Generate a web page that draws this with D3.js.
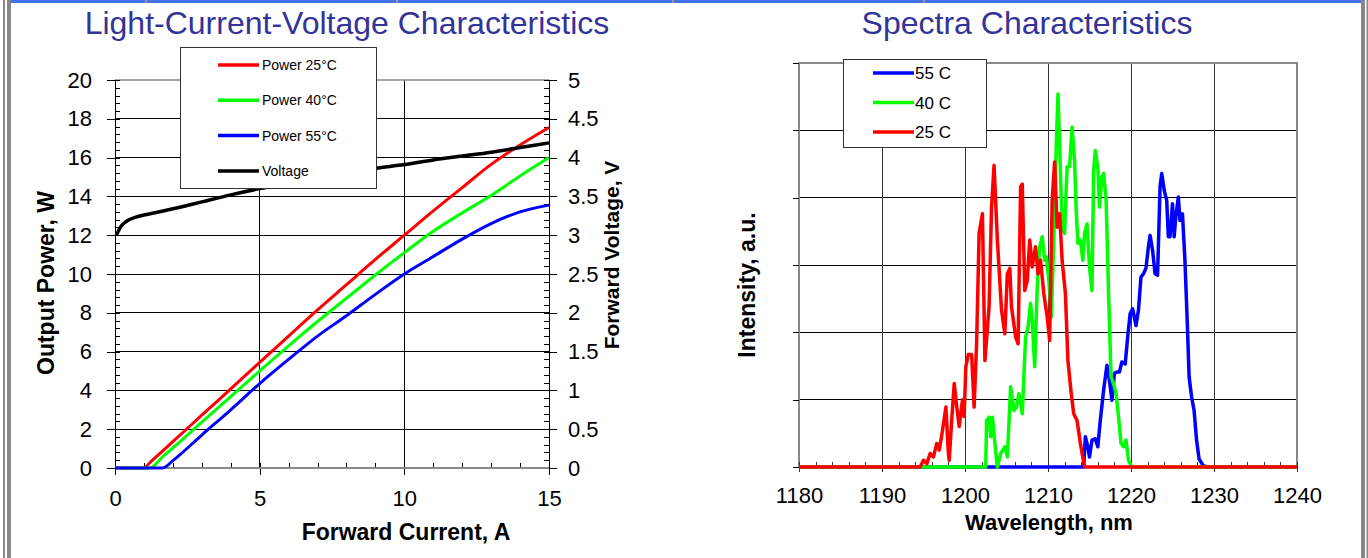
<!DOCTYPE html>
<html>
<head>
<meta charset="utf-8">
<script src="https://cdn.jsdelivr.net/npm/d3@7"></script>
<style>
    body { margin: 0; background: #fff; }
    svg text { font-family: "Liberation Sans", Arial, sans-serif; }
</style>
</head>
<body>
<div id="chart"></div>
<script>
"use strict";

// --- Light-Current-Voltage data ---
const currentA = [0, 1.0, 1.2, 1.65, 2, 3, 4, 5, 6, 7, 8, 9, 10, 11, 12, 13, 14, 15];
const power25 = [0, 0, 0.27, 0.88, 1.36, 2.72, 4.08, 5.44, 6.8, 8.15, 9.45, 10.75, 12.0, 13.25, 14.45, 15.65, 16.65, 17.55];
const power40 = [0, 0, 0, 0.59, 1.04, 2.36, 3.68, 5.0, 6.3, 7.55, 8.75, 9.95, 11.1, 12.2, 13.15, 14.05, 15.05, 16.0];
const power55 = [0, 0, 0, 0, 0.38, 1.7, 3.0, 4.35, 5.6, 6.8, 7.85, 8.95, 10.0, 10.9, 11.8, 12.6, 13.2, 13.55];

const voltageI = [0.05, 0.2, 0.4, 0.7, 1, 1.5, 2, 3, 4, 5, 6, 7, 8, 9, 10, 11, 12, 13, 14, 15];
const voltageV = [3.0, 3.11, 3.18, 3.23, 3.26, 3.3, 3.34, 3.43, 3.52, 3.6, 3.67, 3.74, 3.8, 3.86, 3.91, 3.97, 4.02, 4.07, 4.13, 4.19];

const currentTicks = [0, 5, 10, 15];
const powerTicks = [0, 2, 4, 6, 8, 10, 12, 14, 16, 18, 20];
const voltTicks = [0, 0.5, 1, 1.5, 2, 2.5, 3, 3.5, 4, 4.5, 5];
const livLegend = ["Power 25°C", "Power 40°C", "Power 55°C", "Voltage"];

// --- Spectra data ---
const wl25 = [1180, 1194.6, 1195.0, 1195.4, 1195.8, 1196.2, 1196.6, 1196.9, 1197.3, 1197.7, 1198.0, 1198.1, 1198.4, 1198.7, 1199.0, 1199.3, 1199.7, 1199.9, 1200.1, 1200.4, 1200.8, 1201.1, 1201.4, 1201.7, 1202.1, 1202.4, 1202.9, 1203.2, 1203.5, 1203.9, 1204.4, 1204.8, 1205.1, 1205.4, 1205.6, 1206.1, 1206.4, 1206.7, 1206.9, 1207.2, 1207.5, 1207.8, 1208.1, 1208.5, 1208.8, 1209.1, 1209.5, 1209.9, 1210.2, 1210.5, 1210.8, 1211.1, 1211.4, 1211.7, 1212.1, 1212.4, 1212.8, 1213.1, 1213.5, 1213.9, 1214.4, 1240];
const int25 = [0, 0, 0.1, 0.05, 0.2, 0.15, 0.35, 0.25, 0.55, 0.89, 0.2, 0.1, 0.7, 1.24, 0.9, 0.6, 1.0, 0.75, 1.49, 1.67, 1.67, 0.89, 1.84, 3.47, 3.76, 1.58, 2.38, 3.86, 4.48, 3.37, 2.33, 1.98, 2.87, 2.95, 2.38, 1.93, 1.83, 4.16, 4.2, 2.62, 2.77, 3.37, 2.97, 3.27, 2.87, 3.07, 2.57, 2.23, 1.88, 3.96, 4.53, 3.56, 3.76, 3.07, 2.57, 1.58, 1.09, 0.79, 0.69, 0.35, 0, 0];

const wl40 = [1180, 1202.5, 1202.6, 1202.9, 1203.1, 1203.3, 1203.6, 1203.9, 1204.3, 1204.8, 1205.1, 1205.5, 1205.9, 1206.2, 1206.5, 1206.9, 1207.3, 1207.6, 1207.9, 1208.1, 1208.4, 1208.7, 1209.0, 1209.3, 1209.6, 1209.8, 1210.1, 1210.4, 1210.7, 1211.0, 1211.2, 1211.4, 1211.7, 1212.0, 1212.3, 1212.6, 1212.9, 1213.2, 1213.4, 1213.6, 1213.9, 1214.2, 1214.4, 1214.7, 1215.0, 1215.3, 1215.5, 1215.7, 1216.0, 1216.2, 1216.5, 1216.7, 1217.0, 1217.3, 1217.6, 1217.9, 1218.2, 1218.5, 1218.8, 1219.1, 1219.4, 1219.7, 1220.1, 1240];
const int40 = [0, 0, 0.69, 0.74, 0.45, 0.74, 0.35, 0, 0.2, 0.3, 0.15, 1.19, 0.84, 0.89, 1.09, 0.79, 1.93, 2.08, 2.43, 2.18, 1.49, 2.67, 3.27, 3.42, 3.07, 3.12, 2.77, 2.23, 3.37, 4.8, 5.54, 4.8, 3.56, 3.47, 4.46, 4.46, 5.05, 4.55, 3.81, 3.32, 3.37, 3.07, 3.47, 3.61, 2.97, 2.62, 4.41, 4.7, 4.46, 3.86, 4.31, 4.36, 3.96, 2.57, 1.34, 1.24, 1.09, 0.74, 0.35, 0.3, 0.4, 0.1, 0, 0];

const wl55 = [1180, 1214.3, 1214.5, 1214.8, 1215.0, 1215.3, 1215.7, 1216.0, 1216.3, 1216.7, 1217.1, 1217.4, 1217.7, 1218.0, 1218.3, 1218.6, 1218.9, 1219.3, 1219.6, 1219.9, 1220.2, 1220.6, 1220.9, 1221.2, 1221.5, 1221.8, 1222.1, 1222.3, 1222.6, 1222.9, 1223.2, 1223.5, 1223.7, 1224.0, 1224.3, 1224.5, 1224.7, 1225.0, 1225.2, 1225.4, 1225.7, 1225.9, 1226.2, 1226.5, 1226.8, 1227.0, 1227.3, 1227.6, 1227.9, 1228.2, 1228.7, 1229.2, 1240];
const int55 = [0, 0, 0.45, 0.3, 0.15, 0.4, 0.42, 0.3, 0.69, 1.14, 1.51, 1.29, 0.99, 1.39, 1.41, 1.41, 1.56, 1.53, 1.93, 2.28, 2.35, 2.1, 2.33, 2.82, 2.87, 2.95, 3.27, 3.44, 3.22, 2.87, 2.85, 4.16, 4.36, 4.11, 3.96, 3.42, 3.42, 3.91, 3.42, 3.71, 4.01, 3.66, 3.76, 3.07, 2.08, 1.34, 1.04, 0.84, 0.4, 0.12, 0.02, 0, 0];

const wlTicks = [1180, 1190, 1200, 1210, 1220, 1230, 1240];
const intensityTicks = [0, 1, 2, 3, 4, 5, 6];
const specLegend = ["55 C", "40 C", "25 C"];

const RED = "#ff0000", GREEN = "#00ff00", BLUE = "#0000ff", TITLE = "#333399";

const svg = d3.select("#chart").append("svg")
    .attr("width", 1368)
    .attr("height", 558);

// page frame
svg.append("rect").attr("x", 10).attr("y", 0).attr("width", 1351).attr("height", 3).style("fill", "#4472ee");
[145, 396, 672, 923].forEach(sx => {
    svg.append("rect").attr("x", sx).attr("y", 0).attr("width", 2).attr("height", 3).style("fill", "#999");
});
svg.append("rect").attr("x", 3).attr("y", 0).attr("width", 2).attr("height", 558).style("fill", "#888");
svg.append("rect").attr("x", 7).attr("y", 0).attr("width", 4).attr("height", 558).style("fill", "#888");
svg.append("rect").attr("x", 1361).attr("y", 0).attr("width", 4).attr("height", 558).style("fill", "#888");
svg.append("rect").attr("x", 1366.5).attr("y", 0).attr("width", 1.5).attr("height", 558).style("fill", "#888");

function styleAxis(g, color, fontSize) {
    g.selectAll(".domain").remove();
    g.selectAll("line").style("stroke", color).attr("shape-rendering", "crispEdges");
    g.selectAll("text").style("font-size", fontSize + "px").style("fill", "#000")
        .style("font-family", "'Liberation Sans', Arial, sans-serif");
}

function drawLiv() {
    let x = d3.scaleLinear([0, 15], [115, 549]);
    let yP = d3.scaleLinear([0, 20], [468, 80]);
    let yV = d3.scaleLinear([0, 5], [468, 80]);
    let g = svg.append("g");

    g.append("text").attr("x", 347).attr("y", 34).attr("text-anchor", "middle")
        .style("font-size", "32px").style("fill", TITLE)
        .text("Light-Current-Voltage Characteristics");

    // grid
    powerTicks.slice(1, -1).forEach(v => {
        g.append("line").attr("x1", 115).attr("x2", 549).attr("y1", yP(v)).attr("y2", yP(v))
            .style("stroke", "#000").style("stroke-width", 1).attr("shape-rendering", "crispEdges");
    });
    currentTicks.slice(1, -1).forEach(v => {
        g.append("line").attr("x1", x(v)).attr("x2", x(v)).attr("y1", 80).attr("y2", 468)
            .style("stroke", "#000").style("stroke-width", 1).attr("shape-rendering", "crispEdges");
    });
    g.append("line").attr("x1", 115).attr("x2", 549).attr("y1", 80).attr("y2", 80)
        .style("stroke", "#888").style("stroke-width", 1.5);
    g.append("line").attr("x1", 115).attr("x2", 115).attr("y1", 80).attr("y2", 468)
        .style("stroke", "#000").style("stroke-width", 1).attr("shape-rendering", "crispEdges");
    g.append("line").attr("x1", 549).attr("x2", 549).attr("y1", 80).attr("y2", 468)
        .style("stroke", "#000").style("stroke-width", 1).attr("shape-rendering", "crispEdges");

    // axes
    g.append("g").attr("transform", "translate(115,0)")
        .call(d3.axisLeft(yP).tickValues(powerTicks).tickSize(8).tickPadding(15).tickSizeOuter(0))
        .call(a => styleAxis(a, "#000", 22));
    g.append("g").attr("transform", "translate(115,0)")
        .call(d3.axisRight(yP).tickValues(d3.range(0, 20.01, 0.4)).tickSize(5).tickFormat("").tickSizeOuter(0))
        .call(a => styleAxis(a, "#000", 22));
    g.append("g").attr("transform", "translate(549,0)")
        .call(d3.axisRight(yV).tickValues(voltTicks).tickSize(8).tickPadding(11).tickSizeOuter(0)
            .tickFormat(d3.format("")))
        .call(a => styleAxis(a, "#000", 22));
    g.append("g").attr("transform", "translate(549,0)")
        .call(d3.axisLeft(yV).tickValues(d3.range(0, 5.001, 0.1)).tickSize(5).tickFormat("").tickSizeOuter(0))
        .call(a => styleAxis(a, "#000", 22));
    g.append("g").attr("transform", "translate(0,468)")
        .call(d3.axisBottom(x).tickValues(currentTicks).tickSize(7).tickPadding(15).tickSizeOuter(0))
        .call(a => styleAxis(a, "#000", 22));
    g.append("g").attr("transform", "translate(0,468)")
        .call(d3.axisTop(x).tickValues(d3.range(0, 16, 1)).tickSize(5).tickFormat("").tickSizeOuter(0))
        .call(a => styleAxis(a, "#000", 22));
    g.append("line").attr("x1", 115).attr("x2", 549).attr("y1", 468).attr("y2", 468)
        .style("stroke", "#888").style("stroke-width", 2);

    // axis titles
    g.append("text").attr("transform", "translate(54,283) rotate(-90)").attr("text-anchor", "middle")
        .style("font-size", "23px").style("font-weight", "bold").text("Output Power, W");
    g.append("text").attr("transform", "translate(619,255) rotate(-90)").attr("text-anchor", "middle")
        .style("font-size", "21px").style("font-weight", "bold").text("Forward Voltage, V");
    g.append("text").attr("x", 406).attr("y", 540).attr("text-anchor", "middle")
        .style("font-size", "23px").style("font-weight", "bold").text("Forward Current, A");

    // series
    let powerLine = d3.line().curve(d3.curveMonotoneX).x(d => x(d[0])).y(d => yP(d[1]));
    [[power25, RED], [power40, GREEN], [power55, BLUE]].forEach(([vals, color]) => {
        g.append("path").datum(currentA.map((c, i) => [c, vals[i]]))
            .attr("d", powerLine)
            .style("fill", "none").style("stroke", color).style("stroke-width", 3)
            .style("stroke-linejoin", "round");
    });
    let voltLine = d3.line().curve(d3.curveMonotoneX).x(d => x(d[0])).y(d => yV(d[1]));
    g.append("path").datum(voltageI.map((c, i) => [c, voltageV[i]]))
        .attr("d", voltLine)
        .style("fill", "none").style("stroke", "#000").style("stroke-width", 3.5);

    // legend
    let lg = g.append("g");
    lg.append("rect").attr("x", 180.5).attr("y", 47.5).attr("width", 196).attr("height", 141)
        .style("fill", "#fff").style("stroke", "#333").style("stroke-width", 1);
    let legendColors = [RED, GREEN, BLUE, "#000"];
    livLegend.forEach((name, i) => {
        let ly = 65 + i * 35.3;
        lg.append("line").attr("x1", 218).attr("x2", 259).attr("y1", ly).attr("y2", ly)
            .style("stroke", legendColors[i]).style("stroke-width", 3.5);
        lg.append("text").attr("x", 262).attr("y", ly + 5).style("font-size", "14px").text(name);
    });
}

function drawSpectra() {
    let x = d3.scaleLinear([1180, 1240], [799, 1297]);
    let y = d3.scaleLinear([0, 6], [467, 63]);
    let g = svg.append("g");

    g.append("text").attr("x", 1027).attr("y", 34).attr("text-anchor", "middle")
        .style("font-size", "32px").style("fill", TITLE)
        .text("Spectra Characteristics");

    intensityTicks.slice(1, -1).forEach(v => {
        g.append("line").attr("x1", 799).attr("x2", 1297).attr("y1", y(v)).attr("y2", y(v))
            .style("stroke", "#000").style("stroke-width", 1).attr("shape-rendering", "crispEdges");
    });
    wlTicks.slice(1, -1).forEach(v => {
        g.append("line").attr("x1", x(v)).attr("x2", x(v)).attr("y1", 63).attr("y2", 467)
            .style("stroke", "#333").style("stroke-width", 1).attr("shape-rendering", "crispEdges");
    });
    g.append("rect").attr("x", 799).attr("y", 63).attr("width", 498).attr("height", 404)
        .style("fill", "none").style("stroke", "#888").style("stroke-width", 2);

    g.append("g").attr("transform", "translate(799,0)")
        .call(d3.axisLeft(y).tickValues(intensityTicks).tickSize(6).tickFormat("").tickSizeOuter(0))
        .call(a => styleAxis(a, "#000", 22));
    g.append("g").attr("transform", "translate(0,467)")
        .call(d3.axisBottom(x).tickValues(wlTicks).tickSize(5).tickPadding(15).tickSizeOuter(0)
            .tickFormat(d3.format("d")))
        .call(a => styleAxis(a, "#333", 22));
    g.append("g").attr("transform", "translate(0,467)")
        .call(d3.axisTop(x).tickValues(d3.range(1180, 1241, 2)).tickSize(5).tickFormat("").tickSizeOuter(0))
        .call(a => styleAxis(a, "#333", 22));

    g.append("text").attr("transform", "translate(755,285) rotate(-90)").attr("text-anchor", "middle")
        .style("font-size", "23px").style("font-weight", "bold").text("Intensity, a.u.");
    g.append("text").attr("x", 1049).attr("y", 530).attr("text-anchor", "middle")
        .style("font-size", "22px").style("font-weight", "bold").text("Wavelength, nm");

    let line = d3.line().x(d => x(d[0])).y(d => y(d[1]));
    [[wl55, int55, BLUE], [wl40, int40, GREEN], [wl25, int25, RED]].forEach(([wl, vals, color]) => {
        g.append("path").datum(wl.map((w, i) => [w, vals[i]]))
            .attr("d", line)
            .style("fill", "none").style("stroke", color).style("stroke-width", 3.5)
            .style("stroke-linejoin", "round");
    });

    let lg = g.append("g");
    lg.append("rect").attr("x", 843.5).attr("y", 59.5).attr("width", 143).attr("height", 88)
        .style("fill", "#fff").style("stroke", "#333").style("stroke-width", 1);
    let legendColors = [BLUE, GREEN, RED];
    specLegend.forEach((name, i) => {
        let ly = 73 + i * 29.5;
        lg.append("line").attr("x1", 873).attr("x2", 914).attr("y1", ly).attr("y2", ly)
            .style("stroke", legendColors[i]).style("stroke-width", 3.5);
        lg.append("text").attr("x", 915).attr("y", ly + 6).style("font-size", "17px").text(name);
    });
}

drawLiv();
drawSpectra();
</script>
</body>
</html>
